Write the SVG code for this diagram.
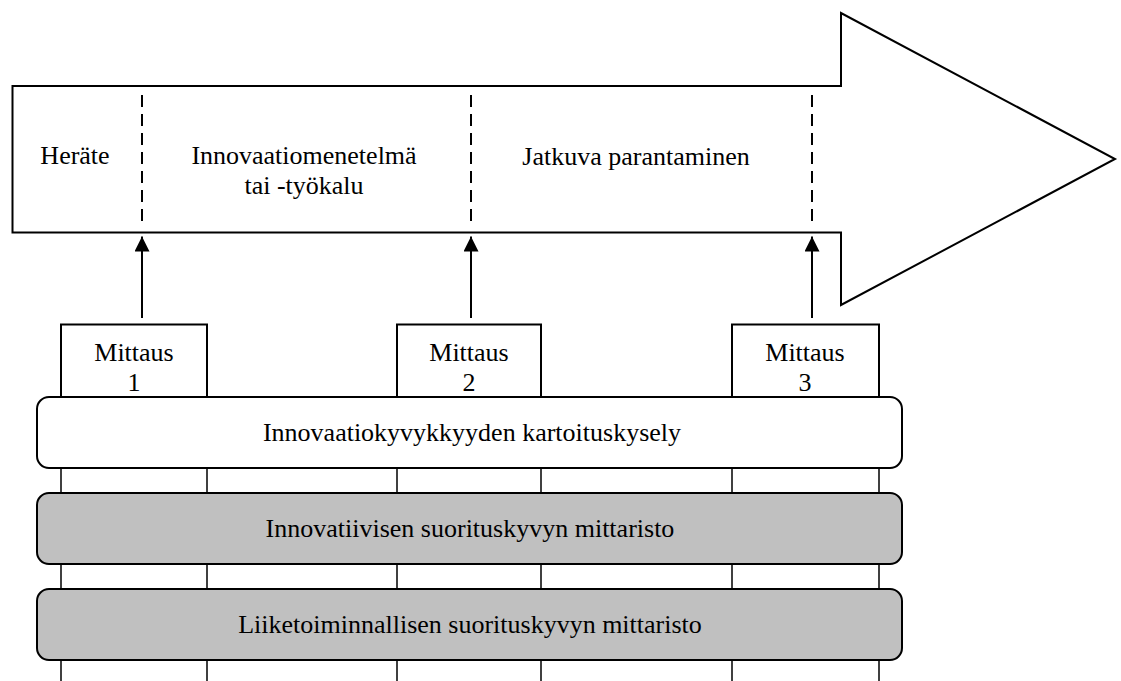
<svg xmlns="http://www.w3.org/2000/svg" width="1121" height="681" viewBox="0 0 1121 681">
<style>
text{font-family:"Liberation Serif","Times New Roman",serif;font-size:26px;fill:#000;text-anchor:middle}
.ol{fill:#fff;stroke:#000;stroke-width:2}
.dash{stroke:#000;stroke-width:2;stroke-dasharray:12 7;fill:none}
.ln{stroke:#000;stroke-width:1.5;fill:none}
.conn{stroke:#000;stroke-width:2;fill:none}
.grey{fill:#c0c0c0;stroke:#000;stroke-width:2}
.white{fill:#fff;stroke:#000;stroke-width:2}
</style>
<defs>
<marker id="ah" markerWidth="15" markerHeight="15" viewBox="0 0 15 15" refX="15" refY="7.5" orient="auto" markerUnits="userSpaceOnUse">
<path d="M0,0 L15,7.5 L0,15 Z" fill="#000"/>
</marker>
</defs>
<rect width="1121" height="681" fill="#fff"/>
<g id="process-arrow">
<polygon class="ol" points="12.5,86 841,86 841,13 1115,159 841,305 841,232.5 12.5,232.5"/>
<line class="dash" x1="142" y1="95" x2="142" y2="222"/>
<line class="dash" x1="471" y1="95" x2="471" y2="222"/>
<line class="dash" x1="812" y1="95" x2="812" y2="222"/>
<text x="75" y="164">Heräte</text>
<text x="304" y="164">Innovaatiomenetelmä</text>
<text x="304" y="194">tai -työkalu</text>
<text x="636" y="165">Jatkuva parantaminen</text>
</g>
<g id="columns">
<line class="ln" x1="61" y1="468" x2="61" y2="681"/>
<line class="ln" x1="207" y1="468" x2="207" y2="681"/>
<line class="ln" x1="397" y1="468" x2="397" y2="681"/>
<line class="ln" x1="541" y1="468" x2="541" y2="681"/>
<line class="ln" x1="732" y1="468" x2="732" y2="681"/>
<line class="ln" x1="879" y1="468" x2="879" y2="681"/>
</g>
<g id="mittaus1">
<rect class="white" x="61" y="324.5" width="146" height="73"/>
<text x="134" y="361">Mittaus</text>
<text x="134" y="391">1</text>
</g>
<g id="mittaus2">
<rect class="white" x="397" y="324.5" width="144" height="73"/>
<text x="469" y="361">Mittaus</text>
<text x="469" y="391">2</text>
</g>
<g id="mittaus3">
<rect class="white" x="732" y="324.5" width="147" height="73"/>
<text x="805" y="361">Mittaus</text>
<text x="805" y="391">3</text>
</g>
<g id="kartoituskysely">
<rect class="white" x="37" y="397" width="865" height="71" rx="12" ry="12"/>
<text x="472" y="441">Innovaatiokyvykkyyden kartoituskysely</text>
</g>
<g id="innovatiivinen">
<rect class="grey" x="37" y="493" width="865" height="71" rx="12" ry="12"/>
<text x="470" y="537">Innovatiivisen suorituskyvyn mittaristo</text>
</g>
<g id="liiketoiminnallinen">
<rect class="grey" x="37" y="589" width="865" height="71" rx="12" ry="12"/>
<text x="470" y="633">Liiketoiminnallisen suorituskyvyn mittaristo</text>
</g>
<g id="connectors">
<line class="conn" x1="142" y1="318" x2="142" y2="236.5" marker-end="url(#ah)"/>
<line class="conn" x1="471" y1="318" x2="471" y2="236.5" marker-end="url(#ah)"/>
<line class="conn" x1="812" y1="318" x2="812" y2="236.5" marker-end="url(#ah)"/>
</g>
</svg>
